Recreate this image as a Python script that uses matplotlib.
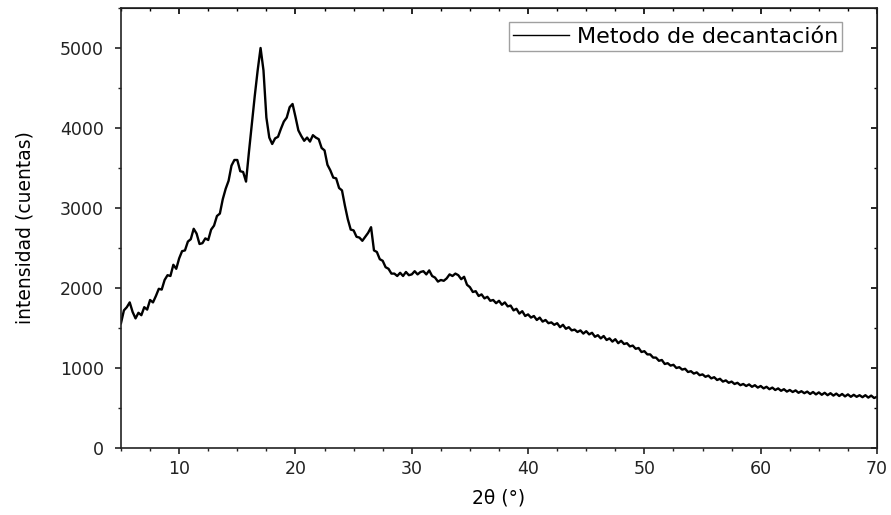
import numpy as np
import matplotlib.pyplot as plt
from matplotlib.ticker import MultipleLocator

plt.rcParams['font.family'] = ['DejaVu Sans']

# 2theta grid, 0.25 deg steps from 5 to 70
two_theta = np.arange(5, 70.001, 0.25)

# intensidad (cuentas), 4 points per degree
counts = [
    1560, 1720, 1760, 1820,   # 5
    1700, 1620, 1690, 1660,   # 6
    1760, 1730, 1850, 1820,   # 7
    1900, 1990, 1980, 2100,   # 8
    2160, 2150, 2290, 2240,   # 9
    2370, 2460, 2470, 2580,   # 10
    2610, 2740, 2680, 2550,   # 11
    2560, 2620, 2600, 2730,   # 12
    2780, 2900, 2930, 3110,   # 13
    3240, 3340, 3530, 3600,   # 14
    3600, 3460, 3450, 3330,   # 15
    3700, 4050, 4400, 4720,   # 16
    5000, 4720, 4130, 3880,   # 17
    3800, 3870, 3890, 3990,   # 18
    4080, 4130, 4260, 4300,   # 19
    4140, 3970, 3900, 3840,   # 20
    3880, 3830, 3910, 3880,   # 21
    3860, 3750, 3720, 3540,   # 22
    3470, 3380, 3370, 3250,   # 23
    3220, 3030, 2860, 2730,   # 24
    2720, 2640, 2630, 2590,   # 25
    2640, 2690, 2760, 2470,   # 26
    2450, 2360, 2340, 2260,   # 27
    2240, 2180, 2180, 2150,   # 28
    2190, 2150, 2200, 2160,   # 29
    2170, 2210, 2170, 2200,   # 30
    2210, 2170, 2220, 2150,   # 31
    2130, 2080, 2100, 2090,   # 32
    2120, 2170, 2150, 2180,   # 33
    2160, 2110, 2140, 2040,   # 34
    2010, 1950, 1960, 1900,   # 35
    1920, 1870, 1890, 1840,   # 36
    1850, 1810, 1840, 1790,   # 37
    1820, 1770, 1780, 1720,   # 38
    1740, 1680, 1710, 1650,   # 39
    1670, 1630, 1650, 1600,   # 40
    1630, 1580, 1600, 1560,   # 41
    1570, 1540, 1560, 1510,   # 42
    1540, 1490, 1510, 1470,   # 43
    1480, 1450, 1470, 1430,   # 44
    1460, 1420, 1440, 1390,   # 45
    1410, 1370, 1400, 1350,   # 46
    1370, 1330, 1360, 1310,   # 47
    1340, 1300, 1310, 1270,   # 48
    1280, 1240, 1250, 1200,   # 49
    1210, 1170, 1170, 1130,   # 50
    1130, 1090, 1100, 1050,   # 51
    1060, 1030, 1040, 1000,   # 52
    1010, 980, 990, 950,      # 53
    960, 930, 945, 910,       # 54
    920, 890, 905, 870,       # 55
    885, 850, 865, 830,       # 56
    845, 815, 830, 800,       # 57
    815, 785, 800, 775,       # 58
    795, 765, 785, 755,       # 59
    775, 745, 765, 735,       # 60
    755, 725, 745, 715,       # 61
    735, 705, 725, 700,       # 62
    720, 690, 710, 685,       # 63
    705, 675, 700, 670,       # 64
    695, 665, 690, 660,       # 65
    685, 655, 680, 650,       # 66
    675, 645, 670, 640,       # 67
    665, 640, 660, 635,       # 68
    660, 630, 655, 625,       # 69
    640,                      # 70
]

fig = plt.figure(figsize=(8.91, 5.15), dpi=100)
ax = fig.add_axes([0.1358, 0.1301, 0.8485, 0.8544])

ax.plot(two_theta, counts, color='black', lw=1.7, label='Metodo de decantación')

ax.set_xlim(5, 70)
ax.set_ylim(0, 5500)
ax.xaxis.set_major_locator(MultipleLocator(10))
ax.xaxis.set_minor_locator(MultipleLocator(2.5))
ax.yaxis.set_minor_locator(MultipleLocator(500))
ax.set_yticks([0, 1000, 2000, 3000, 4000, 5000])

for s in ax.spines.values():
    s.set_linewidth(1.2)
    s.set_color('#222222')

ax.tick_params(which='major', direction='out', length=4.5, width=1.2, labelsize=12.5, colors='#222222')
ax.tick_params(which='minor', direction='out', length=2.5, width=1.0, colors='#222222')
ax.tick_params(axis='y', which='major', pad=8)
ax.tick_params(axis='x', which='major', pad=4)

# mirrored ticks on top and right, pointing inward
top = ax.secondary_xaxis('top')
top.xaxis.set_major_locator(MultipleLocator(10))
top.xaxis.set_minor_locator(MultipleLocator(2.5))
top.tick_params(which='major', direction='in', length=4.5, width=1.2, labeltop=False)
top.tick_params(which='minor', direction='in', length=2.5, width=1.0)
right = ax.secondary_yaxis('right')
right.yaxis.set_major_locator(MultipleLocator(1000))
right.yaxis.set_minor_locator(MultipleLocator(500))
right.tick_params(which='major', direction='in', length=4.5, width=1.2, labelright=False)
right.tick_params(which='minor', direction='in', length=2.5, width=1.0)

ax.set_xlabel('2θ (°)', fontsize=13.5, labelpad=8)
ax.set_ylabel('intensidad (cuentas)', fontsize=13.5, labelpad=18)

leg = ax.legend(loc='upper right', bbox_to_anchor=(0.954, 0.968), fontsize=16,
                frameon=True, fancybox=False, edgecolor='#888888', handlelength=2.5,
                borderpad=0.2, handletextpad=0.35, borderaxespad=0)
leg.get_frame().set_linewidth(1.0)
leg.get_lines()[0].set_linewidth(1.0)

fig.savefig('out.png', dpi=100)
